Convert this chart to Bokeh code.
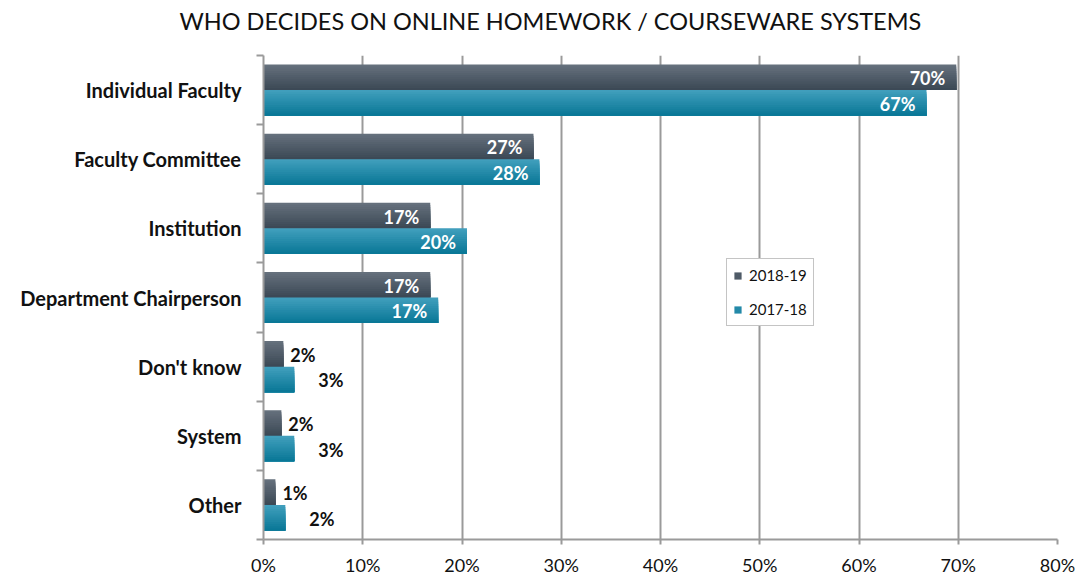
from bokeh.plotting import figure
from bokeh.models import (ColumnDataSource, FixedTicker, Range1d, Legend, LegendItem, Title)
from bokeh.embed import file_html
from bokeh.resources import INLINE
from bokeh.core.properties import value

# ---------------- data ----------------
categories = ["Individual Faculty", "Faculty Committee", "Institution",
              "Department Chairperson", "Don't know", "System", "Other"]
series_names = ["2018-19", "2017-18"]
values_2018_19 = [69.8, 27.2, 16.8, 16.8, 2.0, 1.8, 1.2]
values_2017_18 = [66.8, 27.8, 20.5, 17.6, 3.1, 3.1, 2.2]
labels_2018_19 = ["70%", "27%", "17%", "17%", "2%", "2%", "1%"]
labels_2017_18 = ["67%", "28%", "20%", "17%", "3%", "3%", "2%"]
x_ticks = [0, 10, 20, 30, 40, 50, 60, 70, 80]
x_tick_labels = ["0%", "10%", "20%", "30%", "40%", "50%", "60%", "70%", "80%"]
title_text = "WHO DECIDES ON ONLINE HOMEWORK / COURSEWARE SYSTEMS"

# ---------------- style ----------------
FONT = "Lato"
GRAY = "#9a9a9a"
BAR_H = 0.37
N_SLICES = 12
grad = {
    "2018-19": ((101, 112, 124), (60, 73, 86)),
    "2017-18": ((64, 158, 188), (10, 120, 151)),
}

n = len(categories)
centers = [n - i - 0.5 for i in range(n)]
boundaries = list(range(n + 1))

p = figure(width=1089, height=579, output_backend="svg", toolbar_location=None,
           x_range=Range1d(0, 80), y_range=Range1d(0, n),
           min_border_left=263, min_border_right=32, min_border_top=55,
           min_border_bottom=40)
p.outline_line_color = None
p.background_fill_color = "white"
p.border_fill_color = "white"

legend_renderers = {}
series_vals = {"2018-19": values_2018_19, "2017-18": values_2017_18}
series_offset = {"2018-19": BAR_H / 2, "2017-18": -BAR_H / 2}

for name in series_names:
    vals = series_vals[name]
    top_c, bot_c = grad[name]
    for k in range(N_SLICES):
        t = k / (N_SLICES - 1)
        col = tuple(int(round(top_c[j] + (bot_c[j] - top_c[j]) * t)) for j in range(3))
        color = "#%02x%02x%02x" % col
        tops = [c + series_offset[name] + BAR_H / 2 - k * BAR_H / N_SLICES for c in centers]
        bottoms = [c + series_offset[name] - BAR_H / 2 for c in centers]
        src = ColumnDataSource(dict(top=tops, bottom=bottoms, right=vals))
        r = p.quad(left=0, right="right", top="top", bottom="bottom",
                   source=src, fill_color=color, line_color=None)
        if k == N_SLICES // 2:
            legend_renderers[name] = r

# value labels
series_labels = {"2018-19": labels_2018_19, "2017-18": labels_2017_18}
out_offset = {"2018-19": 7, "2017-18": 24}
for name in series_names:
    vals = series_vals[name]
    labs = series_labels[name]
    ys = [c + series_offset[name] for c in centers]
    inside = dict(x=[], y=[], t=[])
    outside = dict(x=[], y=[], t=[])
    for v, y, t in zip(vals, ys, labs):
        d = inside if v >= 10 else outside
        d["x"].append(v); d["y"].append(y); d["t"].append(t)
    p.text(x="x", y="y", text="t", source=ColumnDataSource(inside),
           text_align="right", text_baseline="middle", x_offset=-11, y_offset=1,
           text_color="white", text_font=value(FONT), text_font_style="bold",
           text_font_size="18px")
    p.text(x="x", y="y", text="t", source=ColumnDataSource(outside),
           text_align="left", text_baseline="middle", x_offset=out_offset[name], y_offset=1,
           text_color="#111111", text_font=value(FONT), text_font_style="bold",
           text_font_size="18px")

# axes
xa = p.xaxis[0]
xa.ticker = FixedTicker(ticks=x_ticks)
xa.major_label_overrides = {t: l for t, l in zip(x_ticks, x_tick_labels)}
xa.axis_line_color = GRAY
xa.axis_line_width = 2
xa.major_tick_line_color = GRAY
xa.major_tick_line_width = 2
xa.major_tick_out = 5
xa.major_tick_in = 0
xa.minor_tick_line_color = None
xa.major_label_text_font = FONT
xa.major_label_text_font_size = "18px"
xa.major_label_text_color = "#111111"
xa.major_label_standoff = 9

ya = p.yaxis[0]
ya.ticker = FixedTicker(ticks=centers, minor_ticks=boundaries)
ya.major_label_overrides = {c: cat for c, cat in zip(centers, categories)}
ya.axis_line_color = GRAY
ya.axis_line_width = 2
ya.major_tick_line_color = None
ya.major_tick_out = 0
ya.major_tick_in = 0
ya.minor_tick_line_color = GRAY
ya.minor_tick_line_width = 2
ya.minor_tick_out = 7
ya.minor_tick_in = 0
ya.major_label_text_font = FONT
ya.major_label_text_font_style = "bold"
ya.major_label_text_font_size = "20px"
ya.major_label_text_color = "#111111"
ya.major_label_standoff = 15

p.xgrid.ticker = FixedTicker(ticks=x_ticks)
p.xgrid.grid_line_color = GRAY
p.xgrid.grid_line_width = 2
p.ygrid.visible = False

legend = Legend(items=[LegendItem(label=nm, renderers=[legend_renderers[nm]]) for nm in series_names],
                location=(463, 213), orientation="vertical",
                border_line_color="#8a8a8a", border_line_width=1.5,
                background_fill_color="white", background_fill_alpha=1,
                label_text_font=FONT, label_text_font_size="15px",
                label_text_color="#111111",
                glyph_width=9, glyph_height=9, label_height=20, label_standoff=7,
                spacing=14, padding=6, margin=0)
p.add_layout(legend, "center")

p.title.text = title_text
p.title.align = "left"
p.title.offset = -84
p.title.text_font = FONT
p.title.text_font_style = "normal"
p.title.text_font_size = "23.5px"
p.title.text_color = "#111111"
p.title.vertical_align = "bottom"
p.title.standoff = 6

# empty spacer panel between title and plot area
spacer = Title(text=" ", text_font_size="14px", standoff=0)
p.add_layout(spacer, "above")

open("out.html", "w").write(file_html(p, INLINE))
